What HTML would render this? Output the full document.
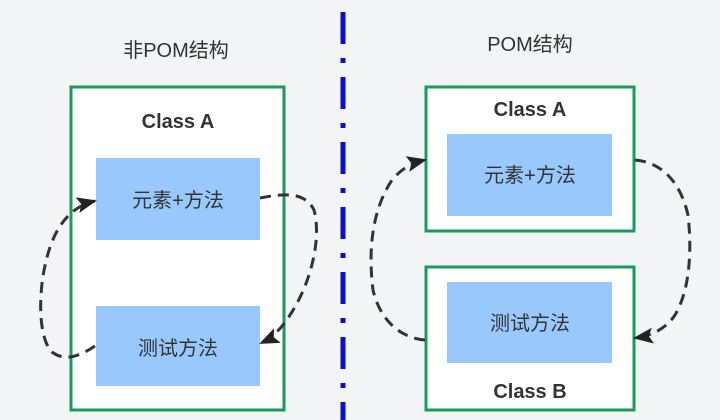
<!DOCTYPE html>
<html><head><meta charset="utf-8"><style>
html,body{margin:0;padding:0;width:720px;height:420px;overflow:hidden;background:#f3f4f6;}
svg{display:block}
text{font-family:"Liberation Sans","Noto Sans CJK SC",sans-serif;fill:#333;}
</style></head><body>
<svg width="720" height="420" viewBox="0 0 720 420">
<defs>
<marker id="ah" markerWidth="20" markerHeight="16" refX="18" refY="8" orient="auto" markerUnits="userSpaceOnUse" viewBox="0 0 20 16">
<path d="M0,0 L20,8 L0,16 L4,8 Z" fill="#222"/>
</marker>
</defs>
<rect x="0" y="0" width="720" height="420" fill="#f3f4f6"/>
<line x1="343" y1="12" x2="343" y2="420" stroke="#0a10c8" stroke-width="5" stroke-dasharray="32,14,5,14"/>
<text x="176" y="57" font-size="20" text-anchor="middle">非POM结构</text>
<rect x="71" y="87" width="213" height="323" fill="#fff" stroke="#1a9a5c" stroke-width="3"/>
<text x="178" y="128" font-size="20" font-weight="bold" text-anchor="middle">Class A</text>
<rect x="96" y="158" width="164" height="82" fill="#99c9fc"/>
<text x="178" y="207" font-size="20" text-anchor="middle">元素+方法</text>
<rect x="96" y="306" width="164" height="80" fill="#99c9fc"/>
<text x="178" y="355" font-size="20" text-anchor="middle">测试方法</text>
<path d="M95,346 C80,356 65,362 52,352 C35,335 38,270 55,235 C65,215 78,205 95,201" fill="none" stroke="#333" stroke-width="3" stroke-dasharray="11,7" marker-end="url(#ah)"/>
<path d="M260,198 C285,193 305,192 314,210 C322,240 310,285 290,315 C282,328 272,338 261,343" fill="none" stroke="#333" stroke-width="3" stroke-dasharray="11,7" marker-end="url(#ah)"/>
<text x="530" y="51" font-size="20" text-anchor="middle">POM结构</text>
<rect x="426" y="87" width="208" height="144" fill="#fff" stroke="#1a9a5c" stroke-width="3"/>
<text x="530" y="116" font-size="20" font-weight="bold" text-anchor="middle">Class A</text>
<rect x="447" y="134" width="165" height="82" fill="#99c9fc"/>
<text x="530" y="182" font-size="20" text-anchor="middle">元素+方法</text>
<rect x="426" y="267" width="208" height="143" fill="#fff" stroke="#1a9a5c" stroke-width="3"/>
<rect x="447" y="282" width="165" height="81" fill="#99c9fc"/>
<text x="530" y="330" font-size="20" text-anchor="middle">测试方法</text>
<text x="530" y="398" font-size="20" font-weight="bold" text-anchor="middle">Class B</text>
<path d="M425,340 C400,338 380,320 373,290 C368,250 372,210 392,180 C402,168 412,163 425,160" fill="none" stroke="#333" stroke-width="3" stroke-dasharray="11,7" marker-end="url(#ah)"/>
<path d="M635,160 C660,162 680,180 688,215 C692,250 690,290 675,315 C665,330 650,336 635,338" fill="none" stroke="#333" stroke-width="3" stroke-dasharray="11,7" marker-end="url(#ah)"/>
</svg>
</body></html>
